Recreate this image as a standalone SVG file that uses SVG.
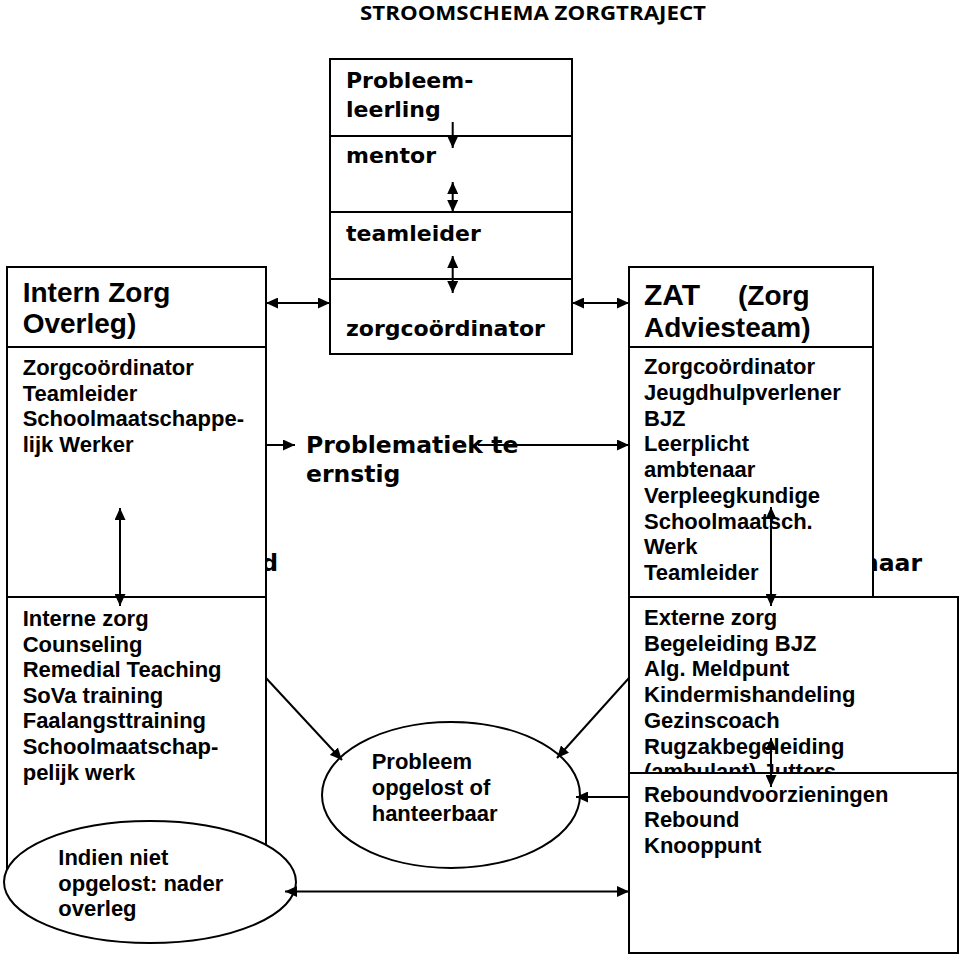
<svg xmlns="http://www.w3.org/2000/svg" width="960" height="956" viewBox="0 0 960 956">
<style>
.box{fill:#fff;stroke:#000;stroke-width:2}
.div{stroke:#000;stroke-width:2}
.t{font-family:"Open Sans","Liberation Sans",sans-serif;font-weight:bold;font-size:20px;fill:#000}
.v{font-family:"DejaVu Sans",Verdana,sans-serif;font-weight:bold;font-size:22px;fill:#000}
.vb{font-family:"DejaVu Sans",Verdana,sans-serif;font-weight:bold;font-size:23.5px;fill:#000}
.h{font-family:"Liberation Sans",Arial,sans-serif;font-weight:bold;font-size:28px;fill:#000}
.hz{font-family:"Liberation Sans",Arial,sans-serif;font-weight:bold;font-size:30px;fill:#000}
.b{font-family:"Liberation Sans",Arial,sans-serif;font-weight:bold;font-size:22px;fill:#000}
.c{fill:none;stroke:#000;stroke-width:2}
</style>
<defs>
<marker id="ah" markerUnits="userSpaceOnUse" markerWidth="13" markerHeight="11" refX="12" refY="5.5" orient="auto-start-reverse">
<path d="M0,0 L12,5.5 L0,11 z" fill="#000"/>
</marker>
</defs>
<rect width="960" height="956" fill="#fff"/>
<text class="t" x="360" y="20" textLength="346" lengthAdjust="spacingAndGlyphs">STROOMSCHEMA ZORGTRAJECT</text>

<g id="hidden-labels">
<text class="vb" x="278" y="571" text-anchor="end">d</text>
<text class="vb" x="922" y="571" text-anchor="end">naar</text>
</g>

<g id="problematiek">
<text class="vb" x="306" y="453">Problematiek te</text>
<text class="vb" x="306" y="482">ernstig</text>
</g>

<g id="leerlijn">
<rect class="box" x="330" y="59" width="242" height="295"/>
<line class="div" x1="330" y1="136" x2="572" y2="136"/>
<line class="div" x1="330" y1="212" x2="572" y2="212"/>
<line class="div" x1="330" y1="279" x2="572" y2="279"/>
<text class="v" x="346" y="88">Probleem-</text>
<text class="v" x="346" y="117">leerling</text>
<text class="v" x="346" y="163">mentor</text>
<text class="v" x="346" y="241">teamleider</text>
<text class="v" x="346" y="336">zorgcoördinator</text>
</g>

<g id="izo">
<rect class="box" x="7" y="267" width="259" height="330"/>
<line class="div" x1="7" y1="347" x2="266" y2="347"/>
<text class="h" x="22.7" y="302">Intern Zorg</text>
<text class="h" x="22.7" y="333">Overleg)</text>
<text class="b" x="22.7" y="375">Zorgcoördinator</text>
<text class="b" x="22.7" y="400.7">Teamleider</text>
<text class="b" x="22.7" y="426.4">Schoolmaatschappe-</text>
<text class="b" x="22.7" y="452">lijk Werker</text>
</g>

<g id="interne-zorg">
<rect class="box" x="7" y="597" width="259" height="288"/>
<text class="b" x="22.7" y="626">Interne zorg</text>
<text class="b" x="22.7" y="651.6">Counseling</text>
<text class="b" x="22.7" y="677.2">Remedial Teaching</text>
<text class="b" x="22.7" y="702.8">SoVa training</text>
<text class="b" x="22.7" y="728.4">Faalangsttraining</text>
<text class="b" x="22.7" y="754">Schoolmaatschap-</text>
<text class="b" x="22.7" y="779.6">pelijk werk</text>
</g>

<g id="nader-overleg">
<ellipse class="box" cx="150" cy="882" rx="146" ry="61"/>
<text class="b" x="58.3" y="865">Indien niet</text>
<text class="b" x="58.3" y="890.5">opgelost: nader</text>
<text class="b" x="58.3" y="916">overleg</text>
</g>

<g id="zat">
<rect class="box" x="629" y="267" width="244" height="330"/>
<line class="div" x1="629" y1="347" x2="873" y2="347"/>
<text class="hz" x="644" y="305">ZAT</text>
<text class="h" x="738" y="305">(Zorg</text>
<text class="h" x="644" y="337">Adviesteam)</text>
<text class="b" x="644" y="374.3">Zorgcoördinator</text>
<text class="b" x="644" y="400">Jeugdhulpverlener</text>
<text class="b" x="644" y="425.7">BJZ</text>
<text class="b" x="644" y="451.4">Leerplicht</text>
<text class="b" x="644" y="477.1">ambtenaar</text>
<text class="b" x="644" y="502.8">Verpleegkundige</text>
<text class="b" x="644" y="528.5">Schoolmaatsch.</text>
<text class="b" x="644" y="554.2">Werk</text>
<text class="b" x="644" y="579.9">Teamleider</text>
</g>

<g id="externe-zorg">
<rect class="box" x="629" y="597" width="329" height="176"/>
<text class="b" x="644" y="625">Externe zorg</text>
<text class="b" x="644" y="650.7">Begeleiding BJZ</text>
<text class="b" x="644" y="676.4">Alg. Meldpunt</text>
<text class="b" x="644" y="702.1">Kindermishandeling</text>
<text class="b" x="644" y="727.8">Gezinscoach</text>
<text class="b" x="644" y="753.5">Rugzakbegeleiding</text>
<text class="b" x="644" y="779.2">(ambulant) Jutters</text>
</g>

<g id="rebound">
<rect class="box" x="629" y="773" width="329" height="180"/>
<text class="b" x="644" y="801.7">Reboundvoorzieningen</text>
<text class="b" x="644" y="827.4">Rebound</text>
<text class="b" x="644" y="853.1">Knooppunt</text>
</g>

<g id="probleem-opgelost">
<ellipse class="box" cx="451" cy="795" rx="129" ry="73"/>
<text class="b" x="371.7" y="769.3">Probleem</text>
<text class="b" x="371.7" y="795">opgelost of</text>
<text class="b" x="371.7" y="821">hanteerbaar</text>
</g>

<g id="connectors">
<line class="c" x1="452.7" y1="122" x2="452.7" y2="148" marker-end="url(#ah)"/>
<line class="c" x1="452.7" y1="182" x2="452.7" y2="212" marker-start="url(#ah)" marker-end="url(#ah)"/>
<line class="c" x1="452.7" y1="256" x2="452.7" y2="293" marker-start="url(#ah)" marker-end="url(#ah)"/>
<line class="c" x1="266" y1="303" x2="330" y2="303" marker-start="url(#ah)" marker-end="url(#ah)"/>
<line class="c" x1="572" y1="303" x2="629" y2="303" marker-start="url(#ah)" marker-end="url(#ah)"/>
<line class="c" x1="266" y1="445" x2="295" y2="445" marker-end="url(#ah)"/>
<line class="c" x1="478" y1="445" x2="629" y2="445" marker-end="url(#ah)"/>
<line class="c" x1="120" y1="508" x2="120" y2="606" marker-start="url(#ah)" marker-end="url(#ah)"/>
<line class="c" x1="771" y1="507" x2="771" y2="606" marker-start="url(#ah)" marker-end="url(#ah)"/>
<line class="c" x1="771" y1="738" x2="771" y2="787" marker-start="url(#ah)" marker-end="url(#ah)"/>
<line class="c" x1="266" y1="678" x2="342" y2="760" marker-end="url(#ah)"/>
<line class="c" x1="629" y1="678" x2="557" y2="758" marker-end="url(#ah)"/>
<line class="c" x1="629" y1="797" x2="576" y2="797" marker-end="url(#ah)"/>
<line class="c" x1="285" y1="891.5" x2="629" y2="891.5" marker-start="url(#ah)" marker-end="url(#ah)"/>
</g>
</svg>
